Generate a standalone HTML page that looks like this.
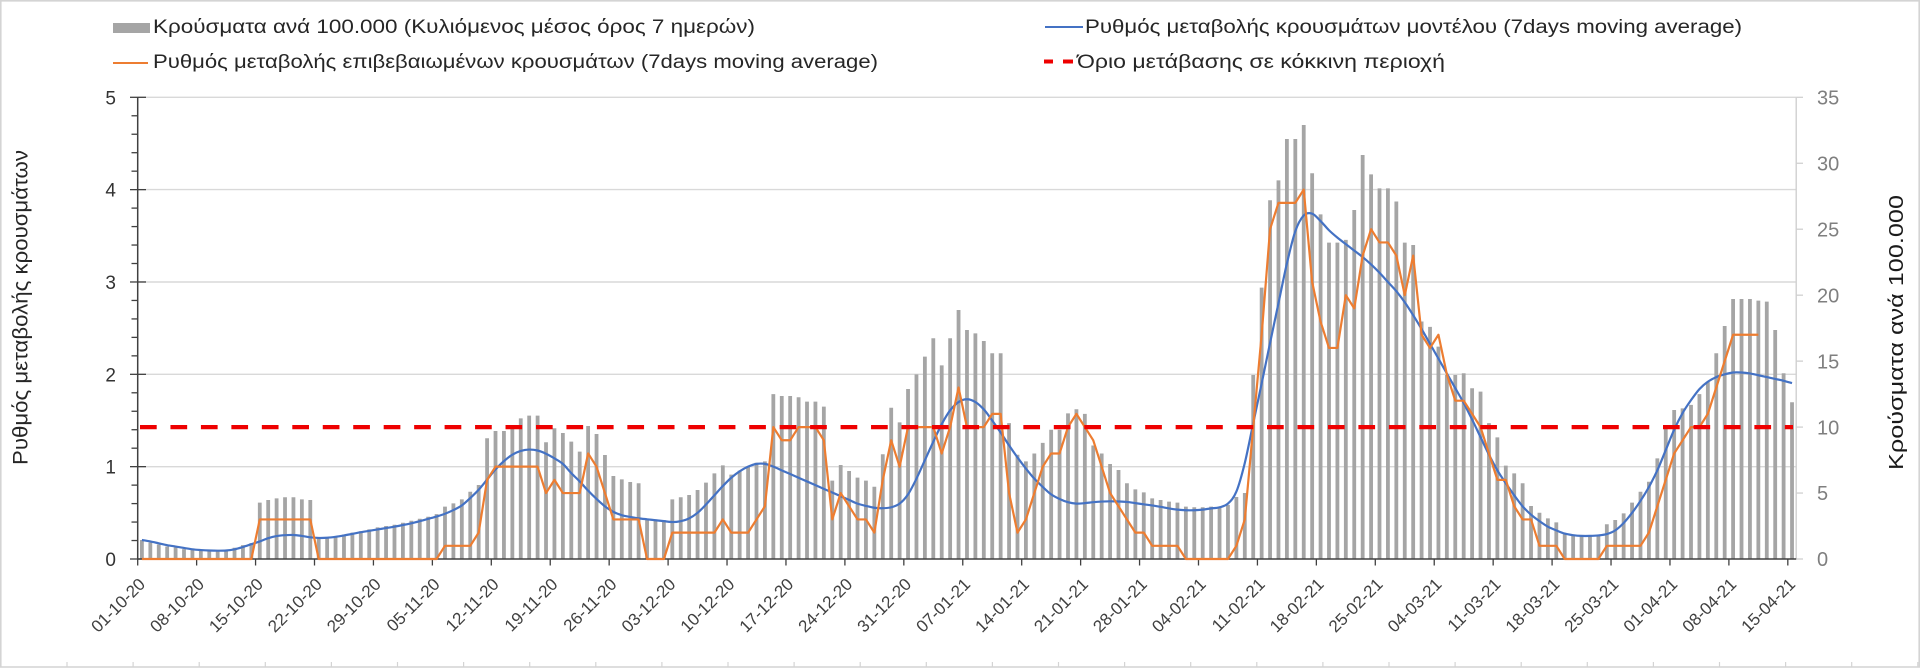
<!DOCTYPE html>
<html>
<head>
<meta charset="utf-8">
<style>
  html, body { margin:0; padding:0; background:#ffffff; }
  body { width:1920px; height:670px; overflow:hidden; }
  svg { display:block; }
  text { font-family: "Liberation Sans", "DejaVu Sans", sans-serif; }
</style>
</head>
<body>
<svg id="chart" xmlns="http://www.w3.org/2000/svg" width="1920" height="670" viewBox="0 0 1920 670">
  <rect x="0" y="0" width="1920" height="670" fill="#ffffff"/>
  <!-- outer frame / sheet lines -->
  <line x1="0" y1="0.8" x2="1920" y2="0.8" stroke="#d4d4d4" stroke-width="1.6"/>
  <line x1="0.8" y1="0" x2="0.8" y2="667" stroke="#d4d4d4" stroke-width="1.6"/>
  <line x1="1919.2" y1="0" x2="1919.2" y2="667" stroke="#d4d4d4" stroke-width="1.6"/>
  <line x1="0" y1="667" x2="1920" y2="667" stroke="#d4d4d4" stroke-width="1.5"/>
  <g id="sheetTicks" stroke="#d4d4d4" stroke-width="1.2"></g>

  <!-- gridlines -->
  <g stroke="#d9d9d9" stroke-width="1.4">
    <line x1="137.7" y1="97.3" x2="1796.2" y2="97.3"/>
    <line x1="137.7" y1="189.6" x2="1796.2" y2="189.6"/>
    <line x1="137.7" y1="282" x2="1796.2" y2="282"/>
    <line x1="137.7" y1="374.3" x2="1796.2" y2="374.3"/>
    <line x1="137.7" y1="466.7" x2="1796.2" y2="466.7"/>
  </g>

  <path id="bars" fill="#a5a5a5" d=""/>

  <!-- right axis -->
  <line x1="1796.2" y1="97.3" x2="1796.2" y2="559" stroke="#d0d0d0" stroke-width="1.4"/>
  <g id="rticks" stroke="#d0d0d0" stroke-width="1.3"></g>

  <!-- left axis -->
  <line x1="137.7" y1="97.3" x2="137.7" y2="559.6" stroke="#404040" stroke-width="1.5"/>
  <g id="lticks" stroke="#404040" stroke-width="1.3"></g>

  <!-- x axis -->
  <line x1="137" y1="559" x2="1796.2" y2="559" stroke="#404040" stroke-width="1.5"/>
  <g id="xticks" stroke="#404040" stroke-width="1.3"></g>

  <path id="blue" fill="none" stroke="#4472c4" stroke-width="2.2" stroke-linejoin="round" d=""/>
  <polyline id="orange" fill="none" stroke="#ed7d31" stroke-width="2.2" stroke-linejoin="round" points=""/>
  <line x1="140" y1="427.1" x2="1793" y2="427.1" stroke="#ee0000" stroke-width="4.3" stroke-dasharray="16.7 13.76"/>

  <!-- left tick labels -->
  <g font-size="19" fill="#333333" text-anchor="end">
    <text x="116" y="104.3">5</text>
    <text x="116" y="196.6">4</text>
    <text x="116" y="289">3</text>
    <text x="116" y="381.3">2</text>
    <text x="116" y="473.7">1</text>
    <text x="116" y="566">0</text>
  </g>
  <!-- right tick labels -->
  <g font-size="20" fill="#7f7f7f" text-anchor="start">
    <text x="1817" y="104.5">35</text>
    <text x="1817" y="170.5">30</text>
    <text x="1817" y="236.4">25</text>
    <text x="1817" y="302.4">20</text>
    <text x="1817" y="368.3">15</text>
    <text x="1817" y="434.3">10</text>
    <text x="1817" y="500.2">5</text>
    <text x="1817" y="566.2">0</text>
  </g>

  <!-- axis titles -->
  <text transform="translate(27.5,307.5) rotate(-90)" text-anchor="middle" font-size="21" fill="#262626" textLength="315" lengthAdjust="spacingAndGlyphs">Ρυθμός μεταβολής κρουσμάτων</text>
  <text transform="translate(1903,332.5) rotate(-90)" text-anchor="middle" font-size="20" fill="#1a1a1a" textLength="275" lengthAdjust="spacingAndGlyphs">Κρούσματα ανά 100.000</text>

  <g id="xlabels" font-size="17" fill="#404040" text-anchor="end"></g>

  <!-- legend -->
  <rect x="113" y="23" width="37" height="10" fill="#a5a5a5"/>
  <text x="153" y="33" font-size="19" fill="#262626" textLength="602" lengthAdjust="spacingAndGlyphs">Κρούσματα ανά 100.000 (Κυλιόμενος μέσος όρος 7 ημερών)</text>
  <line x1="113" y1="63" x2="148" y2="63" stroke="#ed7d31" stroke-width="2"/>
  <text x="153" y="68" font-size="19" fill="#262626" textLength="725" lengthAdjust="spacingAndGlyphs">Ρυθμός μεταβολής επιβεβαιωμένων κρουσμάτων (7days moving average)</text>
  <line x1="1045" y1="27" x2="1083" y2="27" stroke="#4472c4" stroke-width="2"/>
  <text x="1085" y="33" font-size="19" fill="#262626" textLength="657" lengthAdjust="spacingAndGlyphs">Ρυθμός μεταβολής κρουσμάτων μοντέλου (7days moving average)</text>
  <line x1="1044" y1="61.5" x2="1053" y2="61.5" stroke="#ee0000" stroke-width="4"/>
  <line x1="1063" y1="61.5" x2="1073" y2="61.5" stroke="#ee0000" stroke-width="4"/>
  <text x="1077" y="68" font-size="19" fill="#262626" textLength="368" lengthAdjust="spacingAndGlyphs">Όριο μετάβασης σε κόκκινη περιοχή</text>
</svg>

<script>
(function(){
  var NS = "http://www.w3.org/2000/svg";
  var X0 = 137.7, CW = 8.419, Y0 = 559, PR = 13.191, PL = 92.34;
  function cx(i){ return X0 + CW*(i+0.5); }
  function mk(tag, attrs, parent){
    var e = document.createElementNS(NS, tag);
    for (var k in attrs) e.setAttribute(k, attrs[k]);
    parent.appendChild(e); return e;
  }

  var bars = [1.44,1.25,1.1,0.95,0.88,0.75,0.68,0.63,0.62,0.58,
  0.68,0.85,1.05,1.2,4.27,4.47,4.6,4.68,4.68,4.52,
  4.47,1.6,1.6,1.7,1.85,2.0,2.1,2.25,2.4,2.5,
  2.6,2.75,2.9,3.05,3.2,3.4,3.97,4.22,4.52,5.1,
  5.61,9.15,9.7,9.7,10.16,10.66,10.87,10.87,8.85,9.91,
  9.55,8.9,8.14,10.08,9.48,7.88,6.29,6.04,5.84,5.74,
  3.0,3.0,2.95,4.52,4.68,4.85,5.23,5.79,6.49,7.1,
  6.4,6.7,7.0,7.3,7.4,12.5,12.36,12.36,12.26,11.93,
  11.93,11.55,5.94,7.13,6.67,6.17,5.94,5.48,7.94,11.47,
  10.36,12.89,14.0,15.34,16.73,14.68,16.73,18.88,17.36,17.1,
  16.53,15.6,15.6,10.3,7.9,7.4,8.0,8.8,9.8,9.8,
  11.04,11.35,11.0,8.6,8.0,7.2,6.75,5.74,5.28,5.05,
  4.6,4.47,4.35,4.27,3.97,3.92,3.92,3.97,3.97,4.1,
  4.7,5.0,13.95,20.57,27.2,28.7,31.84,31.84,32.9,29.24,
  26.13,23.98,23.98,24.19,26.46,30.63,29.16,28.1,28.1,27.1,
  23.98,23.8,18.0,17.6,16.1,13.95,13.95,14.08,12.94,12.69,
  10.3,9.22,7.08,6.49,5.74,4.02,3.51,3.08,2.78,1.95,
  1.82,1.74,1.74,1.74,2.63,2.96,3.46,4.27,5.1,5.86,
  7.63,9.9,11.3,11.42,11.68,12.5,13.44,15.6,17.66,19.71,
  19.71,19.71,19.59,19.51,17.36,14.08,11.88];

  var blue = [0.206,0.19,0.17,0.15,0.135,0.12,0.105,0.097,0.092,0.09,
  0.092,0.105,0.13,0.16,0.19,0.225,0.248,0.258,0.26,0.25,
  0.235,0.228,0.23,0.24,0.255,0.272,0.29,0.305,0.32,0.335,
  0.35,0.368,0.387,0.41,0.435,0.46,0.49,0.53,0.58,0.66,
  0.75,0.86,0.97,1.06,1.13,1.17,1.185,1.175,1.14,1.09,
  1.03,0.93,0.84,0.74,0.65,0.57,0.51,0.475,0.455,0.44,
  0.43,0.42,0.41,0.40,0.41,0.44,0.5,0.59,0.69,0.79,
  0.88,0.95,1.0,1.03,1.03,1.0,0.96,0.92,0.88,0.84,
  0.8,0.76,0.72,0.68,0.64,0.6,0.575,0.555,0.55,0.56,
  0.6,0.7,0.87,1.07,1.27,1.46,1.61,1.7,1.73,1.7,
  1.62,1.5,1.37,1.23,1.1,0.98,0.87,0.78,0.7,0.65,
  0.615,0.6,0.605,0.615,0.622,0.625,0.623,0.618,0.605,0.592,
  0.58,0.565,0.548,0.535,0.528,0.528,0.535,0.548,0.56,0.6,
  0.73,1.04,1.47,1.9,2.34,2.77,3.2,3.55,3.72,3.74,
  3.66,3.56,3.48,3.41,3.34,3.27,3.19,3.1,3.0,2.9,
  2.78,2.64,2.49,2.33,2.17,2.01,1.85,1.69,1.51,1.32,
  1.13,0.96,0.82,0.69,0.57,0.48,0.41,0.35,0.31,0.275,
  0.258,0.25,0.25,0.255,0.27,0.31,0.39,0.5,0.63,0.78,
  0.96,1.18,1.4,1.58,1.72,1.84,1.92,1.97,2.0,2.02,
  2.02,2.01,1.99,1.97,1.95,1.93,1.905];

  var orange = [0,0,0,0,0,0,0,0,0,0,
  0,0,0,0,3,3,3,3,3,3,
  3,0,0,0,0,0,0,0,0,0,
  0,0,0,0,0,0,1,1,1,1,
  2,6,7,7,7,7,7,7,5,6,
  5,5,5,8,7,5,3,3,3,3,
  0,0,0,2,2,2,2,2,2,3,
  2,2,2,3,4,10,9,9,10,10,
  10,9,3,5,4,3,3,2,6,9,
  7,10,10,10,10,8,10,13,10,10,
  10,11,11,5,2,3,5,7,8,8,
  10,11,10,9,7,5,4,3,2,2,
  1,1,1,1,0,0,0,0,0,0,
  1,3,10,17,25,27,27,27,28,21,
  18,16,16,20,19,23,25,24,24,23,
  20,23,17,16,17,14,12,12,11,10,
  8,6,6,4,3,3,1,1,1,0,
  0,0,0,0,1,1,1,1,1,2,
  4,6,8,9,10,10,11,13,15,17,
  17,17,17];

  // bars
  var d = "", bw = 3.8;
  for (var i=0;i<bars.length;i++){
    var h = bars[i]*PR, x = cx(i)-bw/2, y = Y0-h;
    d += "M"+x.toFixed(2)+" "+y.toFixed(2)+"h"+bw+"v"+h.toFixed(2)+"h-"+bw+"Z";
  }
  document.getElementById("bars").setAttribute("d", d);

  // blue smooth (Catmull-Rom)
  var pts = blue.map(function(v,i){ return [cx(i), Y0 - v*PL]; });
  var bd = "M"+pts[0][0].toFixed(2)+" "+pts[0][1].toFixed(2);
  for (var i=0;i<pts.length-1;i++){
    var p0 = pts[Math.max(i-1,0)], p1 = pts[i], p2 = pts[i+1], p3 = pts[Math.min(i+2,pts.length-1)];
    var c1x = p1[0]+(p2[0]-p0[0])/6, c1y = p1[1]+(p2[1]-p0[1])/6;
    var c2x = p2[0]-(p3[0]-p1[0])/6, c2y = p2[1]-(p3[1]-p1[1])/6;
    bd += "C"+c1x.toFixed(2)+" "+c1y.toFixed(2)+" "+c2x.toFixed(2)+" "+c2y.toFixed(2)+" "+p2[0].toFixed(2)+" "+p2[1].toFixed(2);
  }
  document.getElementById("blue").setAttribute("d", bd);

  // orange
  var op = orange.map(function(v,i){ return cx(i).toFixed(2)+","+(Y0 - v*PR).toFixed(2); }).join(" ");
  document.getElementById("orange").setAttribute("points", op);

  // x ticks + labels
  var labels = ["01-10-20","08-10-20","15-10-20","22-10-20","29-10-20","05-11-20","12-11-20","19-11-20","26-11-20","03-12-20","10-12-20","17-12-20","24-12-20","31-12-20","07-01-21","14-01-21","21-01-21","28-01-21","04-02-21","11-02-21","18-02-21","25-02-21","04-03-21","11-03-21","18-03-21","25-03-21","01-04-21","08-04-21","15-04-21"];
  var xt = document.getElementById("xticks"), xl = document.getElementById("xlabels");
  for (var k=0;k<labels.length;k++){
    var tx = X0 + 7*CW*k;
    mk("line",{x1:tx.toFixed(2),y1:559,x2:tx.toFixed(2),y2:565.5},xt);
    var c = tx + CW/2;
    var t = mk("text",{transform:"translate("+(c+4.3).toFixed(2)+",585.3) rotate(-45)"},xl);
    t.textContent = labels[k];
  }

  // left ticks
  var lt = document.getElementById("lticks");
  for (var j=0;j<=25;j++){
    var y = (Y0 - j*PL/5).toFixed(2);
    if (j%5===0) mk("line",{x1:130,y1:y,x2:146,y2:y},lt);
    else mk("line",{x1:131.5,y1:y,x2:137.7,y2:y},lt);
  }
  // right ticks
  var rt = document.getElementById("rticks");
  for (var j=0;j<=7;j++){
    var y = (Y0 - j*5*PR).toFixed(2);
    mk("line",{x1:1796.2,y1:y,x2:1803,y2:y},rt);
  }
  // sheet ticks at bottom
  var st = document.getElementById("sheetTicks");
  for (var x=67; x<1920; x+=66.1){
    mk("line",{x1:x.toFixed(1),y1:662,x2:x.toFixed(1),y2:667},st);
  }
})();
</script>
</body>
</html>
